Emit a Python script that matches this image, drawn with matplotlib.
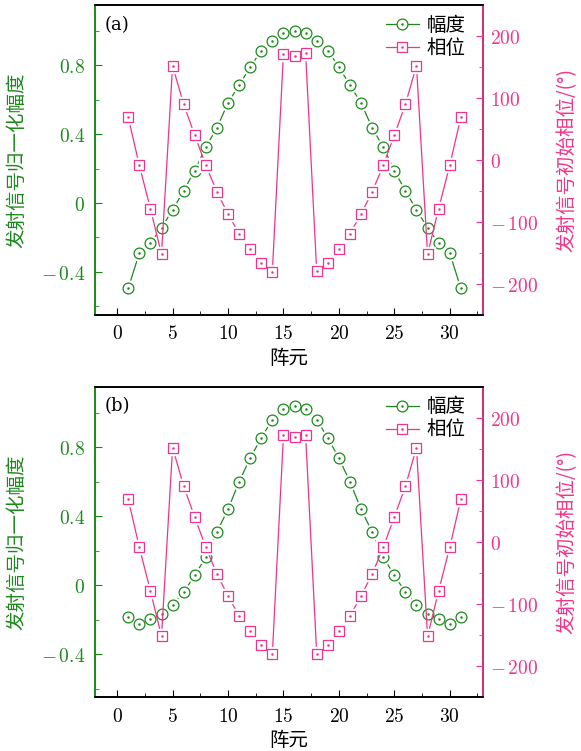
import numpy as np
import matplotlib.pyplot as plt
from matplotlib.ticker import MultipleLocator, FuncFormatter

plt.rcParams['font.family'] = ['Noto Sans CJK SC', 'DejaVu Sans']
plt.rcParams['mathtext.fontset'] = 'cm'

# 数据
element = np.arange(1, 32)
amp_a = [-0.495, -0.29, -0.232, -0.143, -0.04, 0.071, 0.189, 0.325, 0.437, 0.582,
         0.684, 0.79, 0.885, 0.941, 0.985, 1.0, 0.985, 0.941, 0.885, 0.79,
         0.684, 0.582, 0.437, 0.325, 0.189, 0.071, -0.04, -0.143, -0.232, -0.29, -0.495]
amp_b = [-0.186, -0.226, -0.197, -0.166, -0.114, -0.039, 0.056, 0.164, 0.309, 0.439,
         0.599, 0.736, 0.854, 0.958, 1.018, 1.038, 1.018, 0.958, 0.854, 0.736,
         0.599, 0.439, 0.309, 0.164, 0.056, -0.039, -0.114, -0.166, -0.197, -0.226, -0.186]
phase = [68.8, -8.6, -78.5, -152, 152, 89.8, 39.8, -8.6, -51.6, -87,
         -119, -144, -165.6, -180, 171.5, 168.3, 172, -179.6, -165.6, -144,
         -119, -87, -51.6, -8.6, 39.8, 89.8, 152, -152, -78.5, -8.6, 68.8]
panels = ['(a)', '(b)']
amps = [amp_a, amp_b]

green = '#1b8a1b'
pink = '#f2338c'


def num_fmt(v, pos):
    s = '%g' % v
    if s.startswith('-'):
        return r'$-\,%s$' % s[1:]
    return r'$%s$' % s


def series(a, x, y, color, marker, ms):
    # ligne + halo blanc (écart autour des marqueurs) + marqueur creux + point central
    line, = a.plot(x, y, '-', color=color, lw=0.9, zorder=2)
    a.plot(x, y, marker, ls='none', ms=ms + 3, mfc='white', mec='white', zorder=3)
    mk, = a.plot(x, y, marker, ls='none', ms=ms, mfc='white', mec=color, mew=0.9, zorder=4)
    dot, = a.plot(x, y, '.', ls='none', color=color, ms=1.6, zorder=5)
    return line, mk, dot


positions = [[0.1635, 0.5806, 0.6678, 0.4127], [0.1635, 0.0715, 0.6678, 0.4136]]

fig = plt.figure(figsize=(5.81, 7.51), dpi=100)
for pos, amp, tag in zip(positions, amps, panels):
    ax = fig.add_axes(pos)
    ax2 = ax.twinx()

    h1 = series(ax, element, amp, green, 'o', 7.8)
    h2 = series(ax2, element, phase, pink, 's', 6.6)

    ax.set_xlim(-2, 33)
    ax.set_ylim(-0.65, 1.15)
    ax2.set_ylim(-250, 250)

    ax.xaxis.set_major_locator(MultipleLocator(5))
    ax.xaxis.set_minor_locator(MultipleLocator(2.5))
    ax.yaxis.set_major_locator(MultipleLocator(0.4))
    ax.yaxis.set_minor_locator(MultipleLocator(0.2))
    ax2.yaxis.set_major_locator(MultipleLocator(100))
    ax2.yaxis.set_minor_locator(MultipleLocator(50))
    for a in (ax, ax2):
        a.xaxis.set_major_formatter(FuncFormatter(num_fmt))
        a.yaxis.set_major_formatter(FuncFormatter(num_fmt))

    ax.tick_params(axis='x', which='both', direction='in', top=False, labelsize=14, pad=6)
    ax.tick_params(axis='x', which='major', length=5)
    ax.tick_params(axis='x', which='minor', length=3)
    ax.tick_params(axis='y', which='both', direction='in', colors=green, labelsize=14, pad=7)
    ax.tick_params(axis='y', which='major', length=5)
    ax.tick_params(axis='y', which='minor', length=3)
    ax2.tick_params(axis='y', which='both', direction='in', colors=pink, labelsize=14, pad=5)
    ax2.tick_params(axis='y', which='major', length=5)
    ax2.tick_params(axis='y', which='minor', length=3)

    ax.spines['left'].set_color(green)
    ax2.spines['left'].set_color(green)
    ax2.spines['right'].set_color(pink)
    for a in (ax, ax2):
        for sp in a.spines.values():
            sp.set_linewidth(1.2)

    ax.set_xlabel('阵元', fontsize=14)
    ax.xaxis.set_label_coords(0.5, -0.105)
    ax.set_ylabel('发射信号归一化幅度', fontsize=14, color=green)
    ax.yaxis.set_label_coords(-0.175, 0.5)
    ax2.set_ylabel('发射信号初始相位/(°)', fontsize=14, color=pink, rotation=90)
    ax2.yaxis.set_label_coords(1.19, 0.5)

    ax.text(0.025, 0.965, tag, transform=ax.transAxes, fontsize=13,
            family='DejaVu Serif', va='top', ha='left')

    ax2.legend([(h1[0], h1[1], h1[2]), (h2[0], h2[1], h2[2])], ['幅度', '相位'],
               loc='upper right', bbox_to_anchor=(1.0, 1.025), frameon=False,
               fontsize=14, handlelength=1.7, handletextpad=0.4, labelspacing=0.1)

plt.savefig('out.png', dpi=100)
